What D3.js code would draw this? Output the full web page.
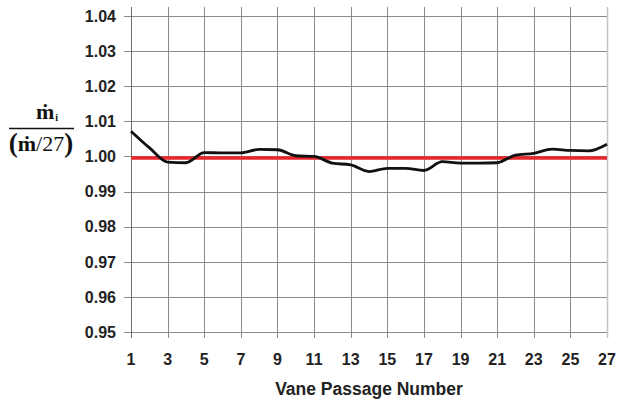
<!DOCTYPE html>
<html>
<head>
<meta charset="utf-8">
<script src="https://cdn.jsdelivr.net/npm/d3@7"></script>
<style>
  html, body { margin: 0; padding: 0; background: #fff; }
  svg { display: block; }
</style>
</head>
<body>
<svg id="chart" width="618" height="404"></svg>
<script>
// Normalised mass flow through each vane passage
const passages = d3.range(1, 28);
const flowRatio = [
  1.0072, 1.0025, 0.9984, 0.9982, 1.0011, 1.0010, 1.0010, 1.0020, 1.0019,
  1.0002, 1.0000, 0.9981, 0.9976, 0.9957, 0.9966, 0.9966, 0.9960, 0.9985,
  0.9981, 0.9981, 0.9982, 1.0004, 1.0009, 1.0021, 1.0017, 1.0016, 1.0035
];
const uniformValue = 1.0;
const xTicks = d3.range(1, 28, 2);
const yTicks = [0.95, 0.96, 0.97, 0.98, 0.99, 1.00, 1.01, 1.02, 1.03, 1.04];

const svg = d3.select("#chart");
const plotLeft = 131, plotRight = 607, plotTop = 16, plotBottom = 332;

const x = d3.scaleLinear().domain([1, 27]).range([plotLeft, plotRight]);
const y = d3.scaleLinear().domain([0.95, 1.04]).range([plotBottom, plotTop]);

const gridColor = "#8a8a8a";
const labelFont = "Liberation Sans, Arial, sans-serif";

// horizontal gridlines with outward ticks
svg.append("g")
  .selectAll("line")
  .data(yTicks)
  .join("line")
  .attr("x1", plotLeft - 7)
  .attr("x2", plotRight)
  .attr("y1", d => Math.round(y(d)) + 0.5)
  .attr("y2", d => Math.round(y(d)) + 0.5)
  .attr("stroke", gridColor)
  .attr("stroke-width", 1);

// vertical gridlines with outward ticks
svg.append("g")
  .selectAll("line")
  .data(xTicks)
  .join("line")
  .attr("x1", d => Math.round(x(d)) + 0.5)
  .attr("x2", d => Math.round(x(d)) + 0.5)
  .attr("y1", plotTop - 9)
  .attr("y2", plotBottom + 6)
  .attr("stroke", d => d === 27 ? "#c4c4c4" : (d === 1 ? "#6e6e6e" : gridColor))
  .attr("stroke-width", d => d === 27 ? 1.5 : 1);

// y tick labels
svg.append("g")
  .selectAll("text")
  .data(yTicks)
  .join("text")
  .attr("x", plotLeft - 15)
  .attr("y", d => y(d))
  .attr("dy", "0.36em")
  .attr("text-anchor", "end")
  .attr("font-family", labelFont)
  .attr("font-weight", "bold")
  .attr("font-size", 16)
  .attr("fill", "#222")
  .text(d => d3.format(".2f")(d));

// x tick labels
svg.append("g")
  .selectAll("text")
  .data(xTicks)
  .join("text")
  .attr("x", d => x(d))
  .attr("y", plotBottom + 33)
  .attr("text-anchor", "middle")
  .attr("font-family", labelFont)
  .attr("font-weight", "bold")
  .attr("font-size", 16)
  .attr("fill", "#222")
  .text(d => d);

// x axis title
svg.append("text")
  .attr("x", (plotLeft + plotRight) / 2)
  .attr("y", 395)
  .attr("text-anchor", "middle")
  .attr("font-family", labelFont)
  .attr("font-weight", "bold")
  .attr("font-size", 17.5)
  .attr("fill", "#222")
  .text("Vane Passage Number");

// uniform-distribution reference line
svg.append("line")
  .attr("x1", x(1))
  .attr("x2", x(27))
  .attr("y1", y(uniformValue) + 1.5)
  .attr("y2", y(uniformValue) + 1.5)
  .attr("stroke", "#e8262c")
  .attr("stroke-width", 3.5);

// measured flow ratio
const line = d3.line()
  .x((d, i) => x(passages[i]))
  .y(d => y(d))
  .curve(d3.curveMonotoneX);

svg.append("path")
  .datum(flowRatio)
  .attr("d", line)
  .attr("fill", "none")
  .attr("stroke", "#111")
  .attr("stroke-width", 2.8)
  .attr("stroke-linejoin", "round");

// y axis label: mass flow fraction  ṁ_i / (ṁ/27)
const lab = svg.append("g")
  .attr("font-family", "Liberation Serif, 'Times New Roman', serif")
  .attr("font-weight", "bold")
  .attr("fill", "#111");

const num = lab.append("text")
  .attr("x", 47)
  .attr("y", 119)
  .attr("text-anchor", "middle")
  .attr("font-size", 22);
num.append("tspan").text("m\u0307");
num.append("tspan").attr("font-size", 10).attr("dy", 2).attr("dx", 1).text("i");

lab.append("line")
  .attr("x1", 9)
  .attr("x2", 74)
  .attr("y1", 128.5)
  .attr("y2", 128.5)
  .attr("stroke", "#111")
  .attr("stroke-width", 1.3);

const den = lab.append("text")
  .attr("x", 41)
  .attr("y", 151)
  .attr("text-anchor", "middle")
  .attr("font-size", 22);
den.append("tspan").attr("font-size", 27).attr("dy", 1).text("(");
den.append("tspan").attr("dy", -1).text("m\u0307");
den.append("tspan").attr("font-weight", "normal").text("/27");
den.append("tspan").attr("font-size", 27).attr("dy", 1).text(")");
</script>
</body>
</html>
